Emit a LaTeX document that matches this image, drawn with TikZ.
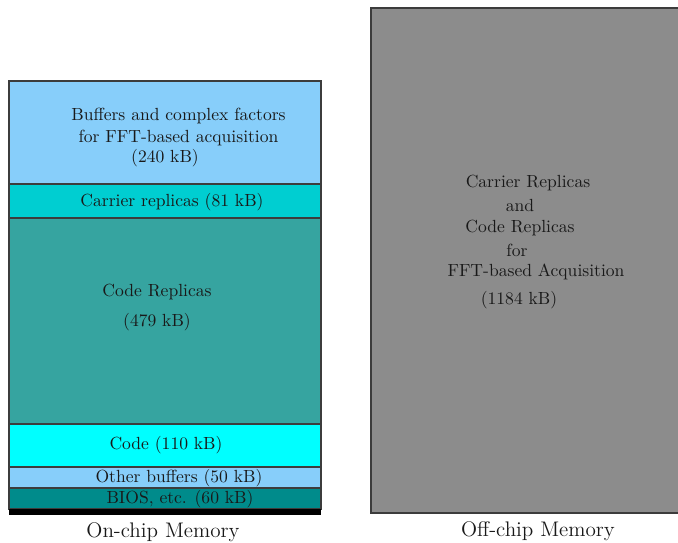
\documentclass[tikz,border=0pt]{standalone}
\usepackage{xcolor}
\usetikzlibrary{positioning}
\definecolor{skyblue}{RGB}{135, 206, 250}
\definecolor{turq}{RGB}{0, 206, 209}
\definecolor{seagreen}{RGB}{54, 164, 160}
\definecolor{brightcyan}{RGB}{0, 255, 255}
\definecolor{darkcyan}{RGB}{0, 139, 139}
\definecolor{offgray}{RGB}{140, 140, 140}
\definecolor{edgegray}{RGB}{60, 60, 60}

\begin{document}
\begin{tikzpicture}[
    memblock/.style={draw=edgegray, line width=0.6pt},
    memtext/.style={text=black!90, align=center},
    captext/.style={text=black!90, font=\large}
]
\useasboundingbox (0,0) rectangle (13.56,10.84);

% on-chip memory, stacked from the top
\filldraw[memblock, fill=skyblue]    (0.18,7.16) rectangle (6.42,9.22);
\filldraw[memblock, fill=turq]       (0.18,6.48) rectangle (6.42,7.16);
\filldraw[memblock, fill=seagreen]   (0.18,2.36) rectangle (6.42,6.48);
\filldraw[memblock, fill=brightcyan] (0.18,1.50) rectangle (6.42,2.36);
\filldraw[memblock, fill=skyblue]    (0.18,1.08) rectangle (6.42,1.50);
\filldraw[memblock, fill=darkcyan]   (0.18,0.66) rectangle (6.42,1.08);
\fill[black] (0.18,0.54) rectangle (6.42,0.66);

\node [memtext] (fftbuf) at (3.57,8.30) {Buffers and complex factors\\for FFT-based acquisition};
\node [memtext] (fftsize) at (3.30,7.67) {(240 kB)};
\node [memtext] (carrier) at (3.44,6.79) {Carrier replicas (81 kB)};
\node [memtext] (codrep) at (3.14,4.99) {Code Replicas};
\node [memtext] (codsize) at (3.14,4.39) {(479 kB)};
\node [memtext] (code) at (3.32,1.93) {Code (110 kB)};
\node [memtext] (other) at (3.58,1.27) {Other buffers (50 kB)};
\node [memtext] (bios) at (3.60,0.85) {BIOS, etc. (60 kB)};
\node [captext] (onchip) at (3.26,0.20) {On-chip Memory};

% off-chip memory
\filldraw[memblock, fill=offgray] (7.42,0.58) rectangle (13.70,10.68);

\node [memtext] (offcar) at (10.56,7.17) {Carrier Replicas};
\node [memtext] (offand) at (10.40,6.73) {and};
\node [memtext] (offcod) at (10.40,6.27) {Code Replicas};
\node [memtext] (offfor) at (10.34,5.83) {for};
\node [memtext] (offfft) at (10.72,5.41) {FFT-based Acquisition};
\node [memtext] (offsize) at (10.38,4.83) {(1184 kB)};
\node [captext] (offchip) at (10.76,0.22) {Off-chip Memory};
\end{tikzpicture}
\end{document}
